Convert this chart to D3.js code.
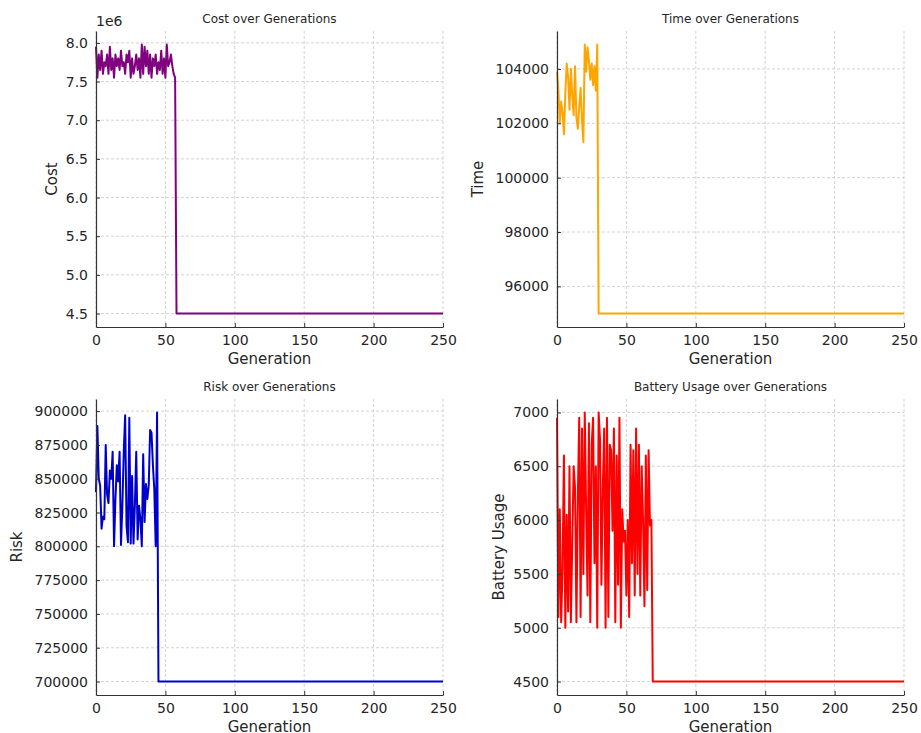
<!DOCTYPE html>
<meta charset="utf-8">
<style>
body {
  margin: 0;
  background: #fff;
  font-family: "DejaVu Sans", sans-serif;
}
.grid line {
  stroke: #c8c8c8;
  stroke-width: 0.8;
  stroke-dasharray: 3,2;
}
.spine {
  stroke: #333;
  stroke-width: 1.2;
}
text {
  fill: #262626;
}
</style>
<body>
<script src="https://cdn.jsdelivr.net/npm/d3@7"></script>
<script>

var width = 921,
    height = 733;

// generations on the x axis
var lastGeneration = 250;
var xTicks = [0, 50, 100, 150, 200, 250];

// cost (x 1e6) during the noisy phase, then flat
var costNoisy = [7.95, 7.55, 7.85, 7.65, 7.9, 7.6, 7.75, 7.7, 7.85, 7.6,
  7.95, 7.65, 7.8, 7.55, 7.85, 7.7, 7.8, 7.65, 7.9, 7.7,
  7.75, 7.6, 7.85, 7.75, 7.9, 7.55, 7.8, 7.6, 7.7, 7.85,
  7.65, 7.8, 7.55, 7.98, 7.6, 7.95, 7.7, 7.9, 7.6, 7.85,
  7.55, 7.8, 7.7, 7.85, 7.6, 7.75, 7.65, 7.9, 7.6, 7.8,
  7.55, 7.98, 7.7, 7.75, 7.85, 7.7, 7.6, 7.55];
var costFinal = 4.5;
var costTicks = [4.5, 5.0, 5.5, 6.0, 6.5, 7.0, 7.5, 8.0];

var timeNoisy = [103900, 103200, 102000, 102800, 102400, 101600, 103100, 104200, 103700, 102500,
  104000, 103000, 102300, 104100, 102200, 101800, 102600, 103300, 102100, 101300,
  104900, 103900, 104800, 104300, 103600, 104200, 103400, 104100, 103200, 104900];
var timeFinal = 95000;
var timeTicks = [96000, 98000, 100000, 102000, 104000];

var riskNoisy = [840000, 889000, 850000, 845000, 813000, 822000, 820000, 875000, 838000, 832000,
  856000, 850000, 870000, 800000, 835000, 860000, 848000, 870000, 801000, 830000,
  870000, 897000, 815000, 803000, 895000, 802000, 852000, 802000, 830000, 870000,
  805000, 830000, 820000, 800000, 868000, 818000, 846000, 835000, 845000, 886000,
  884000, 860000, 842000, 800000, 899000];
var riskFinal = 700000;
var riskTicks = [700000, 725000, 750000, 775000, 800000, 825000, 850000, 875000, 900000];

var batteryNoisy = [6950, 5100, 6100, 5050, 5550, 6600, 5000, 6050, 5150, 6500,
  5050, 5800, 6500, 6300, 5050, 6200, 6950, 5100, 6850, 5500,
  7000, 6100, 5300, 6900, 5050, 6700, 6950, 5600, 6500, 5000,
  7000, 6750, 5400, 6300, 6850, 5000, 6950, 5100, 6700, 6650,
  5900, 6850, 5050, 6600, 5400, 6950, 5000, 6100, 5800, 5900,
  5300, 6000, 5100, 6700, 5600, 6650, 5300, 6850, 5500, 6700,
  5300, 6500, 6000, 5200, 6600, 5350, 6650, 5950, 6000];
var batteryFinal = 4500;
var batteryTicks = [4500, 5000, 5500, 6000, 6500, 7000];

function series(noisy, finalValue) {
  return d3.range(0, lastGeneration + 1).map(function(g) {
    return {g: g, v: g < noisy.length ? noisy[g] : finalValue};
  });
}

var panels = [
  {title: "Cost over Generations", ylabel: "Cost", color: "#800080",
   data: series(costNoisy, costFinal), ticks: costTicks, fmt: d3.format(".1f"), offset: "1e6",
   x0: 96, x1: 443, y0: 31, y1: 327, ylabelX: 52},
  {title: "Time over Generations", ylabel: "Time", color: "#ffa500",
   data: series(timeNoisy, timeFinal), ticks: timeTicks, fmt: d3.format("d"),
   x0: 557, x1: 904, y0: 31, y1: 327, ylabelX: 478},
  {title: "Risk over Generations", ylabel: "Risk", color: "#0000cd",
   data: series(riskNoisy, riskFinal), ticks: riskTicks, fmt: d3.format("d"),
   x0: 96, x1: 443, y0: 399, y1: 695, ylabelX: 17},
  {title: "Battery Usage over Generations", ylabel: "Battery Usage", color: "#ff0000",
   data: series(batteryNoisy, batteryFinal), ticks: batteryTicks, fmt: d3.format("d"),
   x0: 557, x1: 904, y0: 399, y1: 695, ylabelX: 499}
];

var svg = d3.select("body").append("svg")
    .attr("width", width)
    .attr("height", height);

panels.forEach(function(p) {
  var ext = d3.extent(p.data, function(d) { return d.v; });
  var pad = (ext[1] - ext[0]) * 0.05;

  var x = d3.scaleLinear().domain([0, lastGeneration]).range([p.x0, p.x1]);
  var y = d3.scaleLinear().domain([ext[0] - pad, ext[1] + pad]).range([p.y1, p.y0]);

  var g = svg.append("g");

  // dashed grid
  var grid = g.append("g").attr("class", "grid");
  grid.selectAll(".gx")
      .data(xTicks)
    .enter().append("line")
      .attr("x1", function(d) { return x(d); })
      .attr("x2", function(d) { return x(d); })
      .attr("y1", p.y0)
      .attr("y2", p.y1);
  grid.selectAll(".gy")
      .data(p.ticks)
    .enter().append("line")
      .attr("x1", p.x0)
      .attr("x2", p.x1)
      .attr("y1", function(d) { return y(d); })
      .attr("y2", function(d) { return y(d); });

  // the series
  var line = d3.line()
      .x(function(d) { return x(d.g); })
      .y(function(d) { return y(d.v); });

  g.append("path")
      .datum(p.data)
      .attr("fill", "none")
      .attr("stroke", p.color)
      .attr("stroke-width", 2)
      .attr("stroke-linejoin", "round")
      .attr("d", line);

  // axes with inward ticks, left and bottom spines only
  var xAxis = d3.axisBottom(x).tickValues(xTicks).tickSizeInner(-4).tickSizeOuter(0).tickPadding(8);
  var yAxis = d3.axisLeft(y).tickValues(p.ticks).tickSizeInner(-4).tickSizeOuter(0).tickPadding(8)
      .tickFormat(p.fmt);

  var gx = g.append("g")
      .attr("transform", "translate(0," + p.y1 + ")")
      .call(xAxis);
  var gy = g.append("g")
      .attr("transform", "translate(" + p.x0 + ",0)")
      .call(yAxis);

  [gx, gy].forEach(function(a) {
    a.select(".domain").attr("class", "spine domain");
    a.selectAll(".tick line").attr("stroke", "#333");
    a.selectAll("text")
        .attr("font-family", "DejaVu Sans")
        .attr("font-size", 14)
        .attr("fill", "#262626");
  });

  // titles and labels
  g.append("text")
      .attr("x", (p.x0 + p.x1) / 2)
      .attr("y", p.y0 - 8)
      .attr("text-anchor", "middle")
      .attr("font-size", 12)
      .text(p.title);

  g.append("text")
      .attr("x", (p.x0 + p.x1) / 2)
      .attr("y", p.y1 + 37)
      .attr("text-anchor", "middle")
      .attr("font-size", 15)
      .text("Generation");

  g.append("text")
      .attr("transform", "translate(" + p.ylabelX + "," + ((p.y0 + p.y1) / 2) + ") rotate(-90)")
      .attr("text-anchor", "middle")
      .attr("dominant-baseline", "central")
      .attr("font-size", 15)
      .text(p.ylabel);

  if (p.offset) {
    g.append("text")
        .attr("x", p.x0)
        .attr("y", p.y0 - 5)
        .attr("font-size", 14)
        .text(p.offset);
  }
});

</script>
